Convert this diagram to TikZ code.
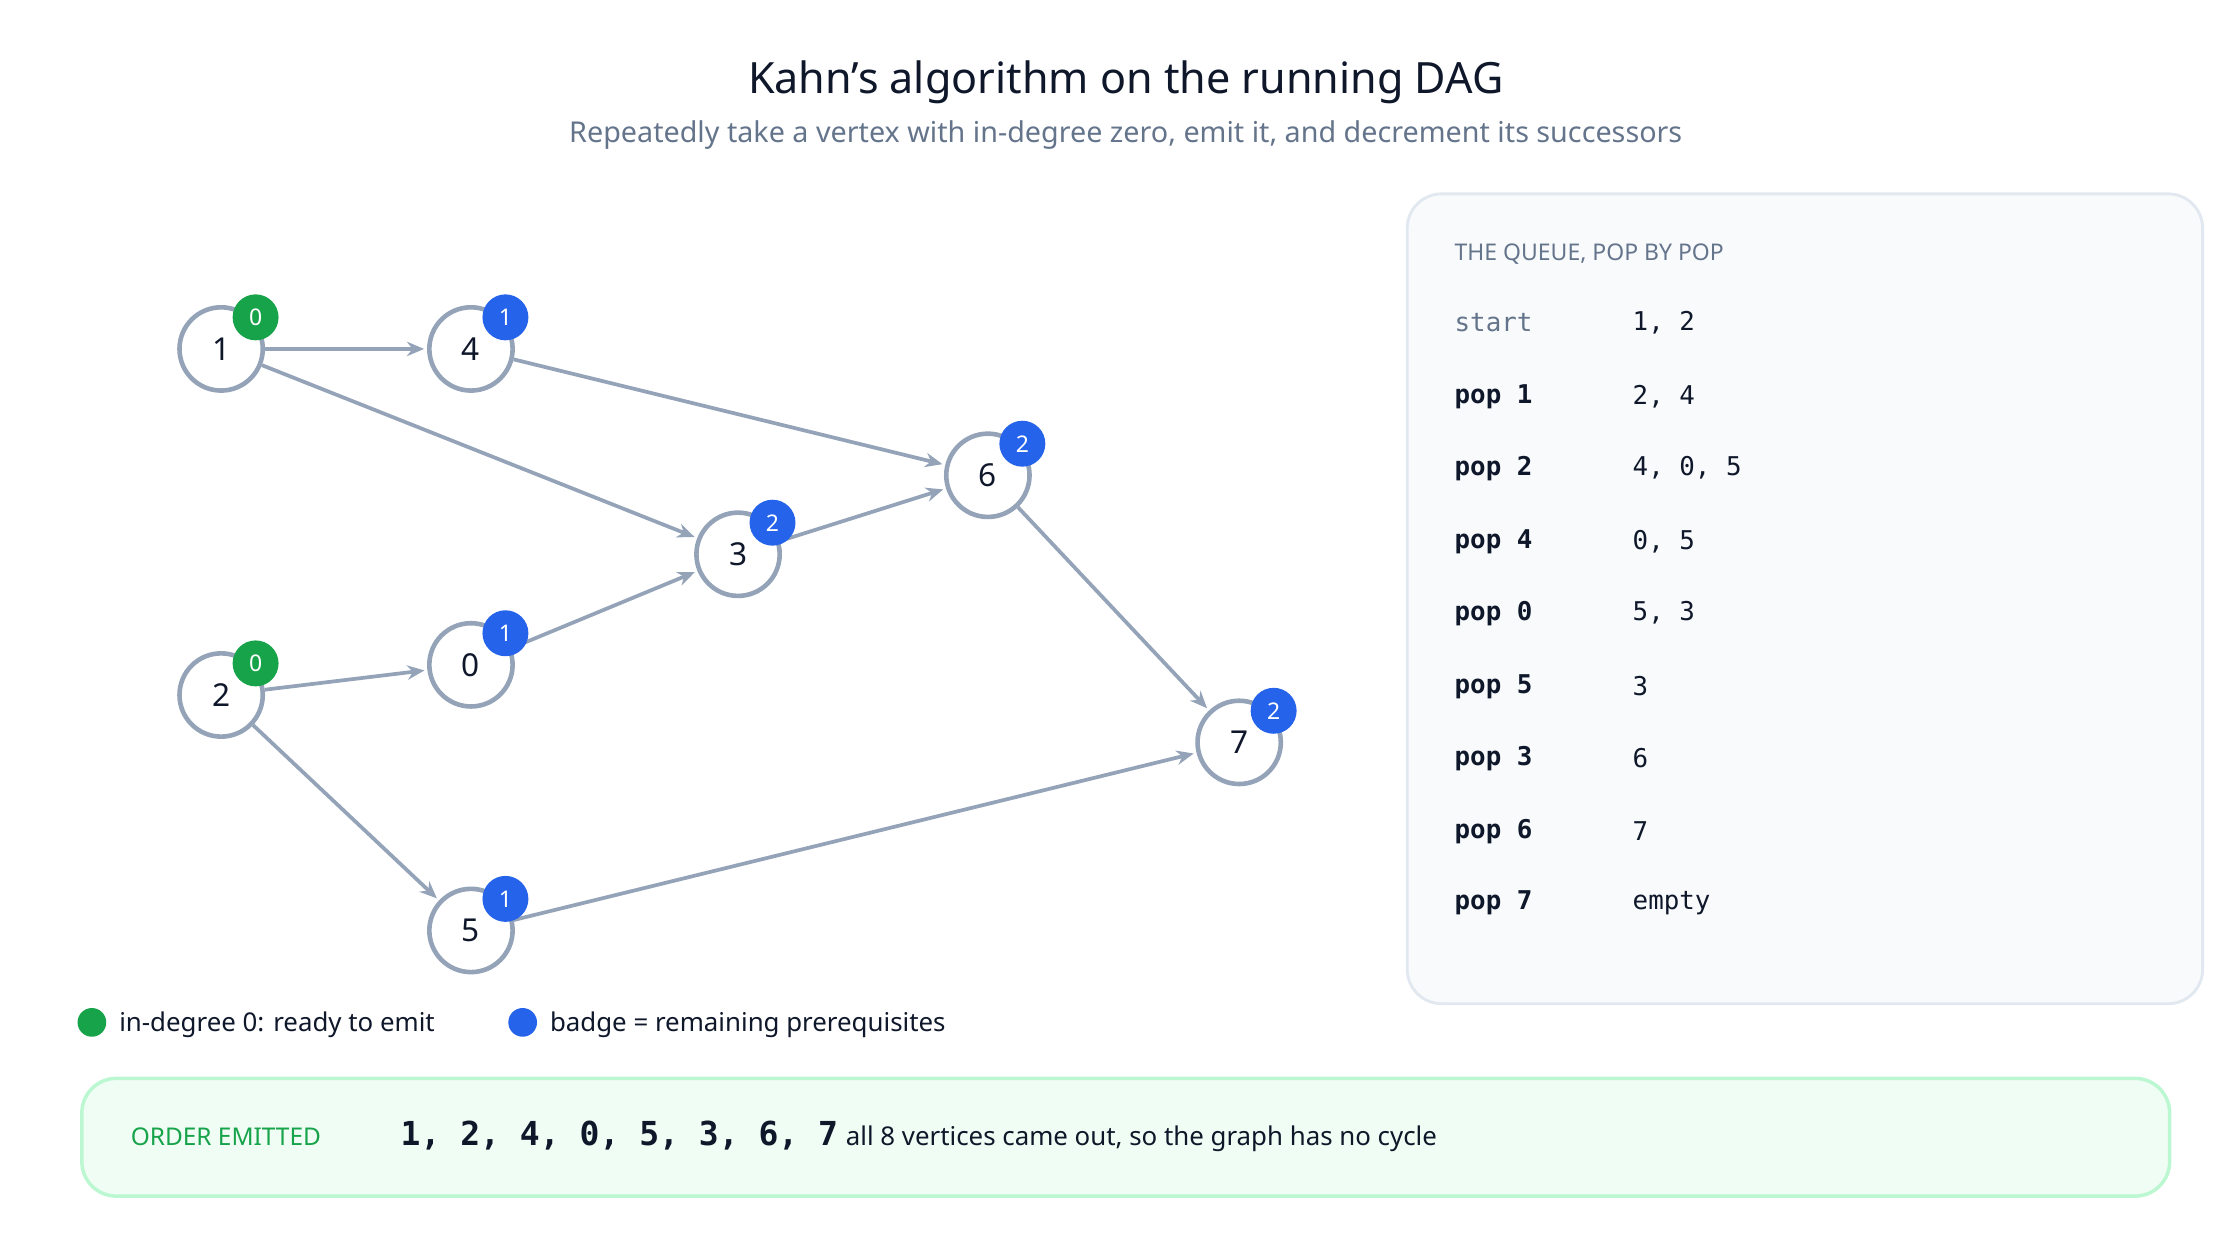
\documentclass[tikz,border=0pt]{standalone}
\usepackage{fontspec}
\setmainfont{Noto Sans}
\newfontfamily\monofont{DejaVu Sans Mono}
\usetikzlibrary{arrows.meta,positioning}
\definecolor{edgegray}{HTML}{94A3B8}
\definecolor{inkdark}{HTML}{0F172A}
\definecolor{inkgray}{HTML}{64748B}
\definecolor{readygreen}{HTML}{16A34A}
\definecolor{badgeblue}{HTML}{2563EB}
\definecolor{panelfill}{HTML}{F8FAFC}
\definecolor{panelline}{HTML}{E2E8F0}
\definecolor{orderfill}{HTML}{F0FDF4}
\definecolor{orderline}{HTML}{BBF7D0}

\begin{document}
\begin{tikzpicture}[x=0.5pt,y=-0.5pt,
    vertex/.style={circle, draw=edgegray, line width=1.6pt, fill=white, minimum size=29pt, inner sep=0pt, font=\fontsize{11}{13}\selectfont\bfseries, text=inkdark},
    badge/.style={circle, minimum size=16pt, inner sep=0pt, text=white, font=\fontsize{8}{9}\selectfont\bfseries},
    edge/.style={-{Stealth[length=6pt,width=5pt]}, draw=edgegray, line width=1.3pt, shorten >=1pt},
    qstep/.style={anchor=west, font=\monofont\fontsize{9}{11}\selectfont\bfseries, text=inkdark},
    qval/.style={anchor=west, font=\monofont\fontsize{9}{11}\selectfont, text=inkdark}
]
    \useasboundingbox (0,0) rectangle (1560,864);

    % Title
    \node[font=\fontsize{15}{18}\selectfont\bfseries, text=inkdark] (title) at (784,57) {Kahn's algorithm on the running DAG};
    \node[font=\fontsize{10}{12}\selectfont, text=inkgray] (subtitle) at (784,94) {Repeatedly take a vertex with in-degree zero, emit it, and decrement its successors};

    % Vertices
    \node[vertex] (v1) at (154,243) {1};
    \node[vertex] (v4) at (328,243) {4};
    \node[vertex] (v6) at (688,331) {6};
    \node[vertex] (v3) at (514,386) {3};
    \node[vertex] (v2) at (154,484) {2};
    \node[vertex] (v0) at (328,463) {0};
    \node[vertex] (v7) at (863,517) {7};
    \node[vertex] (v5) at (328,648) {5};

    % Edges
    \draw[edge] (v1) -- (v4);
    \draw[edge] (v1) -- (v3);
    \draw[edge] (v4) -- (v6);
    \draw[edge] (v3) -- (v6);
    \draw[edge] (v2) -- (v0);
    \draw[edge] (v0) -- (v3);
    \draw[edge] (v2) -- (v5);
    \draw[edge] (v6) -- (v7);
    \draw[edge] (v5) -- (v7);

    % Badges
    \node[badge, fill=readygreen] (b1) at (178,221) {0};
    \node[badge, fill=badgeblue] (b4) at (352,221) {1};
    \node[badge, fill=badgeblue] (b6) at (712,309) {2};
    \node[badge, fill=badgeblue] (b3) at (538,364) {2};
    \node[badge, fill=readygreen] (b2) at (178,462) {0};
    \node[badge, fill=badgeblue] (b0) at (352,441) {1};
    \node[badge, fill=badgeblue] (b7) at (887,495) {2};
    \node[badge, fill=badgeblue] (b5) at (352,626) {1};

    % Legend
    \node[circle, fill=readygreen, minimum size=10pt, inner sep=0pt] (lgreen) at (64,712) {};
    \node[anchor=west, font=\fontsize{9}{11}\selectfont, text=inkdark] (lgreentext) at (76,714) {in-degree 0: ready to emit};
    \node[circle, fill=badgeblue, minimum size=10pt, inner sep=0pt] (lblue) at (364,712) {};
    \node[anchor=west, font=\fontsize{9}{11}\selectfont, text=inkdark] (lbluetext) at (376,714) {badge = remaining prerequisites};

    % Queue panel
    \draw[panelline, fill=panelfill, line width=1pt, rounded corners=12pt] (980,135) rectangle (1534,699);
    \node[anchor=west, font=\fontsize{8}{10}\selectfont\bfseries, text=inkgray] (qhead) at (1006,177) {THE QUEUE, POP BY POP};
    \node[qstep, font=\monofont\fontsize{9}{11}\selectfont, text=inkgray] (s0) at (1006,225) {start};
    \node[qval] (q0) at (1130,225) {1, 2};
    \node[qstep] (s1) at (1006,276) {pop 1};  \node[qval] (q1) at (1130,276) {2, 4};
    \node[qstep] (s2) at (1006,326) {pop 2};  \node[qval] (q2) at (1130,326) {4, 0, 5};
    \node[qstep] (s3) at (1006,377) {pop 4};  \node[qval] (q3) at (1130,377) {0, 5};
    \node[qstep] (s4) at (1006,427) {pop 0};  \node[qval] (q4) at (1130,427) {5, 3};
    \node[qstep] (s5) at (1006,478) {pop 5};  \node[qval] (q5) at (1130,478) {3};
    \node[qstep] (s6) at (1006,528) {pop 3};  \node[qval] (q6) at (1130,528) {6};
    \node[qstep] (s7) at (1006,579) {pop 6};  \node[qval] (q7) at (1130,579) {7};
    \node[qstep] (s8) at (1006,629) {pop 7};  \node[qval] (q8) at (1130,629) {empty};

    % Order emitted
    \draw[orderline, fill=orderfill, line width=1.2pt, rounded corners=12pt] (57,751) rectangle (1511,833);
    \node[anchor=west, font=\fontsize{8.5}{10}\selectfont\bfseries, text=readygreen] (olabel) at (84,792) {ORDER EMITTED};
    \node[anchor=west, font=\monofont\fontsize{11.5}{13}\selectfont\bfseries, text=inkdark] (oseq) at (272,791) {1, 2, 4, 0, 5, 3, 6, 7};
    \node[anchor=west, font=\fontsize{9}{11}\selectfont, text=inkdark] (onote) at (582,793) {all 8 vertices came out, so the graph has no cycle};
\end{tikzpicture}
\end{document}
